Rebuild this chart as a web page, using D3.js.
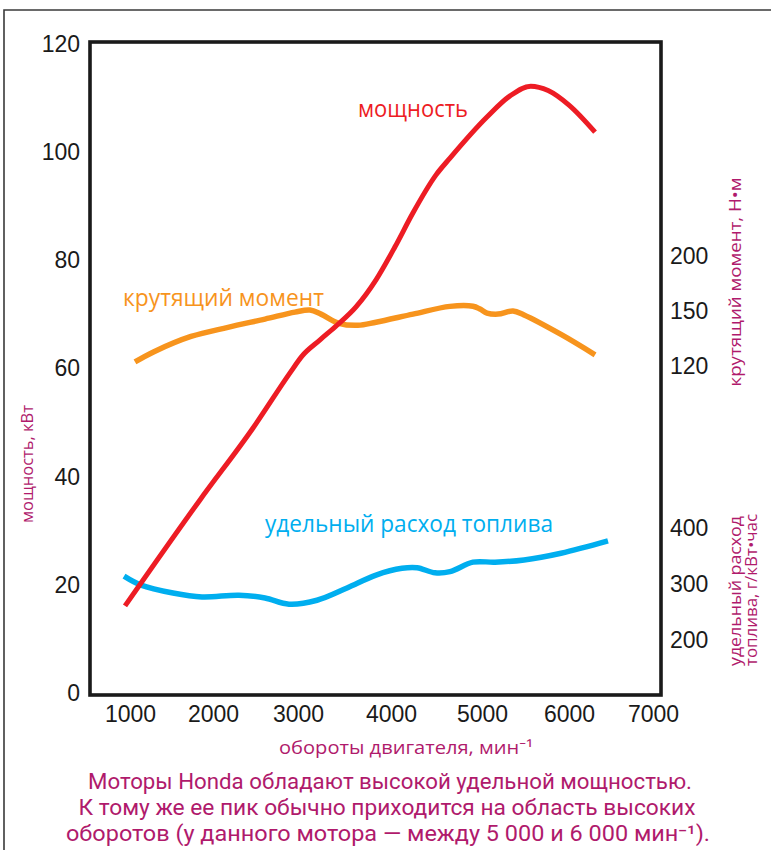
<!DOCTYPE html>
<html><head><meta charset="utf-8">
<script src="https://cdn.jsdelivr.net/npm/d3@7"></script>
<style>body{margin:0;background:#fff}svg{display:block}</style>
</head><body>
<svg id="chart" width="771" height="850"></svg>
<script>
// ---- data ----
const rpmTicks = [1000, 2000, 3000, 4000, 5000, 6000, 7000];
const powerTicks = [0, 20, 40, 60, 80, 100, 120];
const torqueTicks = [120, 150, 200];
const fuelTicks = [200, 300, 400];

const powerRpm = [940, 1843, 2471, 2906, 3043, 3237, 3419, 3624, 3839, 4044, 4242, 4495, 4648, 5057, 5322, 5560, 5760, 6000, 6310];
const powerKw  = [16.1, 35.7, 49.0, 59.2, 62.3, 65.3, 68.0, 71.4, 76.4, 82.5, 88.8, 95.8, 98.9, 106.5, 110.4, 112.2, 111.4, 108.7, 103.7];

const torqueRpm = [1060, 1289, 1735, 2176, 2612, 2965, 3129, 3247, 3441, 3645, 3839, 4242, 4648, 4901, 4978, 5057, 5184, 5356, 5483, 5908, 6310];
const torqueNm  = [122.2, 127.8, 136.1, 141.1, 145.6, 149.4, 150.9, 148.3, 143.3, 142.2, 143.9, 148.3, 154.2, 154.3, 151.8, 148.9, 148.3, 150.0, 147.8, 137.2, 126.1];

const fuelRpm = [928, 1133, 1518, 1867, 2306, 2612, 2894, 3204, 3527, 3839, 4121, 4286, 4484, 4648, 4901, 5149, 5483, 5908, 6464];
const fuelG   = [314, 298, 284, 277, 280, 275, 264, 271, 293, 316, 328, 329, 320, 322, 339, 339, 343, 355, 377];

const labels = {
  power: "мощность",
  torque: "крутящий момент",
  fuel: "удельный расход топлива",
  yLeft: "мощность, кВт",
  yTorque: "крутящий момент, Н•м",
  yFuel1: "удельный расход",
  yFuel2: "топлива, г/кВт•час",
  x: "обороты двигателя, мин⁻¹"
};
const caption = [
  "Моторы Honda обладают высокой удельной мощностью.",
  "К тому же ее пик обычно приходится на область высоких",
  "оборотов (у данного мотора — между 5 000 и 6 000 мин⁻¹)."
];

// ---- layout ----
const RED = "#ed1c24", ORANGE = "#f7941d", BLUE = "#00aeef", MAG = "#b01a6c", INK = "#1a1a1a";
const frame = {left: 90, right: 661, top: 42, bottom: 695};

const svg = d3.select("#chart");

// page border (top + left)
svg.append("path").attr("d", "M4,850 L4,10 L771,10")
  .attr("fill", "none").attr("stroke", "#3a3a3a").attr("stroke-width", 1.6);

// ---- scales ----
const x = d3.scaleLinear().domain(rpmTicks).range([130, 213, 298, 391, 482, 569, 653]);
const yP = d3.scaleLinear().domain([0, 120]).range([693, 44]);
const yT = d3.scaleLinear().domain(torqueTicks).range([366, 311, 256]);
const yF = d3.scaleLinear().domain([200, 400]).range([640, 528]);

const numFont = "'Liberation Sans', Arial, sans-serif";
const txtFont = "'Open Sans', 'Noto Sans', sans-serif";
const capFont = "Roboto, 'Noto Sans', sans-serif";

function styleAxis(g) {
  g.select(".domain").remove();
  g.selectAll(".tick line").remove();
  g.selectAll("text").attr("font-family", numFont).attr("font-size", 23).attr("fill", INK);
}

svg.append("g").attr("transform", `translate(${frame.left},0)`)
  .call(d3.axisLeft(yP).tickValues(powerTicks).tickSize(0).tickPadding(10))
  .call(styleAxis);
svg.append("g").attr("transform", `translate(0,${frame.bottom})`)
  .call(d3.axisBottom(x).tickValues(rpmTicks).tickSize(0).tickPadding(11).tickFormat(d3.format("d")))
  .call(styleAxis);
svg.append("g").attr("transform", `translate(${frame.right},0)`)
  .call(d3.axisRight(yT).tickValues(torqueTicks).tickSize(0).tickPadding(9))
  .call(styleAxis);
svg.append("g").attr("transform", `translate(${frame.right},0)`)
  .call(d3.axisRight(yF).tickValues(fuelTicks).tickSize(0).tickPadding(9))
  .call(styleAxis);

// plot frame
svg.append("rect")
  .attr("x", frame.left).attr("y", frame.top)
  .attr("width", frame.right - frame.left).attr("height", frame.bottom - frame.top)
  .attr("fill", "none").attr("stroke", INK).attr("stroke-width", 3.6);

// ---- lines ----
function drawLine(xs, ys, yScale, color, w, curve) {
  const pts = xs.map((v, i) => [v, ys[i]]);
  const line = d3.line().x(d => x(d[0])).y(d => yScale(d[1])).curve(curve);
  svg.append("path").datum(pts).attr("d", line)
    .attr("fill", "none").attr("stroke", color).attr("stroke-width", w)
    .attr("stroke-linejoin", "round");
}
drawLine(fuelRpm, fuelG, yF, BLUE, 5.5, d3.curveCatmullRom.alpha(0.5));
drawLine(torqueRpm, torqueNm, yT, ORANGE, 5.5, d3.curveCatmullRom.alpha(0.5));
drawLine(powerRpm, powerKw, yP, RED, 5, d3.curveMonotoneX);

// ---- series labels ----
function label(t, px, py, color, size, len, anchor, font) {
  const el = svg.append("text").attr("x", px).attr("y", py).text(t)
    .attr("fill", color).attr("font-family", font || txtFont).attr("font-size", size)
    .attr("text-anchor", anchor || "start");
  if (len) el.attr("textLength", len).attr("lengthAdjust", "spacingAndGlyphs");
  return el;
}
label(labels.power, 358, 117, RED, 23, 110);
label(labels.torque, 123, 306, ORANGE, 23, 201);
label(labels.fuel, 265, 532, BLUE, 23, 288);

// ---- axis titles ----
function vlabel(t, bx, cy, size, len, anchor) {
  svg.append("text").attr("transform", `translate(${bx},${cy}) rotate(-90)`)
    .text(t).attr("fill", MAG).attr("font-family", txtFont).attr("font-size", size)
    .attr("text-anchor", anchor || "middle")
    .attr("textLength", len).attr("lengthAdjust", "spacingAndGlyphs");
}
vlabel(labels.yLeft, 33, 464, 16, 118);
vlabel(labels.yTorque, 741, 282, 16, 209);
vlabel(labels.yFuel1, 741, 666, 16, 150, "start");
vlabel(labels.yFuel2, 757, 666, 16, 152, "start");

label(labels.x, 406, 754, MAG, 18, 254, "middle");

// ---- caption ----
const capPos = [[390, 789, 604], [387, 815, 617], [388, 841, 644]];
caption.forEach((c, i) => {
  label(c, capPos[i][0], capPos[i][1], MAG, 22, capPos[i][2], "middle", capFont);
});
</script>
</body></html>
